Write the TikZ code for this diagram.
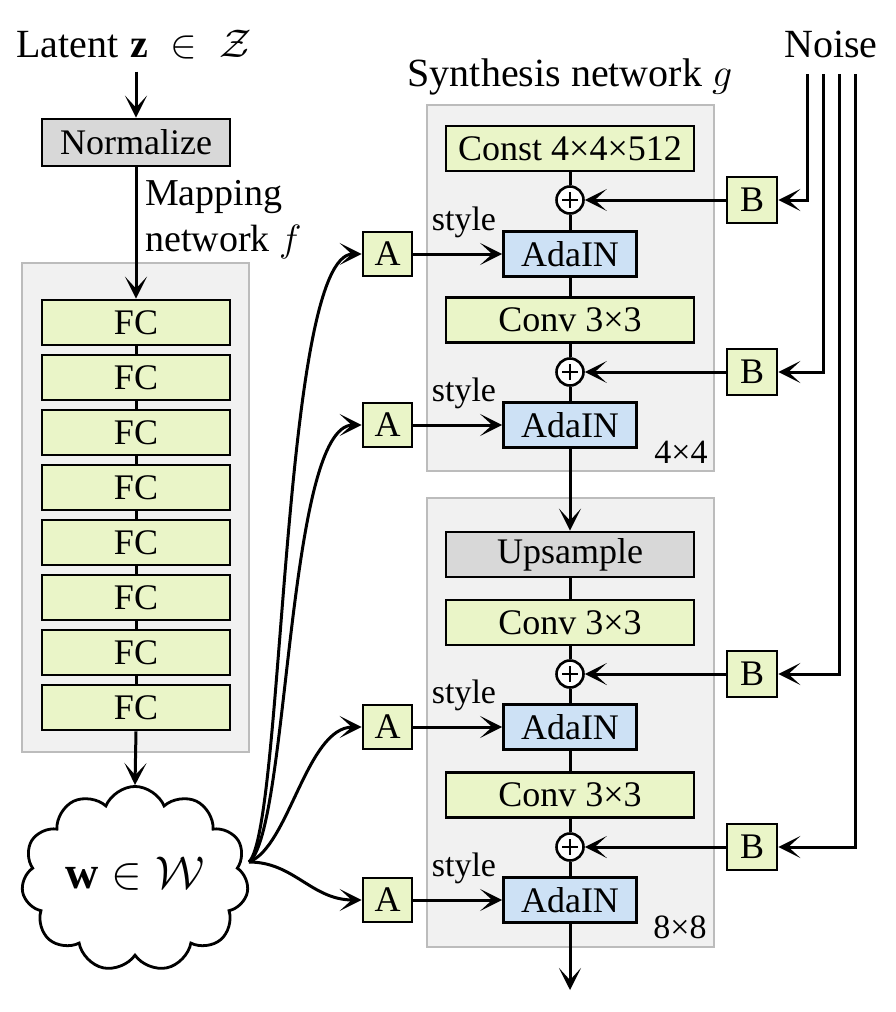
\documentclass[tikz,border=0pt]{standalone}
\usepackage{fix-cm}
\usepackage{fontspec}
\setmainfont{Liberation Serif}
\usetikzlibrary{arrows.meta,shapes.symbols}
\definecolor{gfill}{RGB}{234,245,200}
\definecolor{bfill}{RGB}{205,225,245}
\definecolor{nfill}{RGB}{216,216,216}
\definecolor{pfill}{RGB}{241,241,241}
\definecolor{pdraw}{RGB}{188,188,188}
\newcommand\fsTitle{\fontsize{40}{50}\selectfont}
\newcommand\fsBox{\fontsize{36}{42}\selectfont}
\newcommand\fsSmall{\fontsize{34}{40}\selectfont}
\begin{document}
\begin{tikzpicture}[x=1pt,y=-1pt,
  blk/.style={draw, line width=2.8pt, inner sep=0pt, minimum height=45pt, font=\fsBox},
  gbox/.style={blk, fill=gfill},
  bbox/.style={blk, fill=bfill, minimum width=133pt},
  nbox/.style={blk, fill=nfill},
  wide/.style={minimum width=248pt},
  fcbox/.style={gbox, minimum width=188pt},
  abox/.style={gbox, minimum width=49pt, minimum height=44pt},
  panelbox/.style={draw=pdraw, fill=pfill, line width=2.2pt, inner sep=0pt},
  plusnode/.style={circle, draw, fill=white, line width=2.6pt, minimum size=27pt, inner sep=0pt,
     path picture={\draw[line width=2pt] (path picture bounding box.center) ++(-8pt,0pt) -- ++(16pt,0pt)
        (path picture bounding box.center) ++(0pt,-8pt) -- ++(0pt,16pt);}},
  arr/.style={line width=3pt, -{Stealth[length=22pt,width=22pt,inset=12pt]}},
  conn/.style={line width=3pt},
  lbl/.style={inner sep=0pt, font=\fsTitle},
  stylelbl/.style={above=12pt, pos=0.57, font=\fsSmall, inner sep=3pt}
]
\useasboundingbox (0,0) rectangle (896,1012);

% panels
\node[panelbox, minimum width=227pt, minimum height=489pt] (mappanel) at (135.5,507.5) {};
\node[panelbox, minimum width=287pt, minimum height=366pt] (synA) at (570.5,288) {};
\node[panelbox, minimum width=287pt, minimum height=449pt] (synB) at (570.5,722.5) {};

% titles
\node[lbl] (lat) at (134,45) {Latent\hspace{12pt}$\mathbf{z}\;\in\;\mathcal{Z}$};
\node[lbl] (noise) at (831,44) {Noise};
\node[lbl] (syn) at (570,77) {Synthesis network $g$};
\node[lbl, anchor=north west, align=left, font=\fontsize{38}{46}\selectfont] (maplbl) at (145,180) {Mapping\\network $f$};

% mapping network
\node[nbox, minimum width=188pt, minimum height=47pt] (norm) at (136,142.5) {Normalize};
\foreach \i in {1,...,8}{
  \node[fcbox] (fc\i) at (136,{322.5+55*(\i-1)}) {FC};
}
\node[cloud, draw, line width=2.8pt, cloud puffs=11, cloud puff arc=135, aspect=1.27,
      minimum width=227pt, minimum height=178pt, inner sep=0pt, font=\fontsize{46}{50}\selectfont]
      (w) at (135,879) {\raisebox{12pt}{$\mathbf{w}\in\mathcal{W}$}};
\coordinate (wo) at (249,862);

\draw[arr, shorten <=12pt] (norm.north |- lat.south) -- (norm.north);
\draw[arr] (norm.south) -- (fc1.north);
\foreach \i [evaluate=\i as \j using int(\i+1)] in {1,...,7}{
  \draw[conn] (fc\i.south) -- (fc\j.north);
}
\draw[arr] (fc8.south) -- (w.north);

% synthesis network
\node[gbox, wide] (const) at (570,148.5) {Const 4×4×512};
\node[plusnode] (p1) at (570,200) {};
\node[bbox] (ada1) at (570,254) {AdaIN};
\node[gbox, wide] (conv1) at (570,320) {Conv 3×3};
\node[plusnode] (p2) at (570,372) {};
\node[bbox] (ada2) at (570,425) {AdaIN};
\node[lbl, font=\fsSmall] (res1) at (681,452) {4×4};

\node[nbox, wide] (up) at (570,554.5) {Upsample};
\node[gbox, wide] (conv2) at (570,622.5) {Conv 3×3};
\node[plusnode] (p3) at (570,674) {};
\node[bbox] (ada3) at (570,727) {AdaIN};
\node[gbox, wide] (conv3) at (570,795) {Conv 3×3};
\node[plusnode] (p4) at (570,847) {};
\node[bbox] (ada4) at (570,900) {AdaIN};
\node[lbl, font=\fsSmall] (res2) at (680,927) {8×8};
\coordinate (out) at (570,990);

\draw[conn] (const) -- (p1) -- (ada1) -- (conv1) -- (p2) -- (ada2);
\draw[arr] (ada2) -- (up);
\draw[conn] (up) -- (conv2) -- (p3) -- (ada3) -- (conv3) -- (p4) -- (ada4);
\draw[arr] (ada4) -- (out);

% A boxes
\node[abox] (A1) at (387.5,254) {A};
\node[abox] (A2) at (387.5,425) {A};
\node[abox] (A3) at (387.5,727) {A};
\node[abox] (A4) at (387.5,900) {A};
\draw[arr] (A1) -- node[stylelbl] {style} (ada1);
\draw[arr] (A2) -- node[stylelbl] {style} (ada2);
\draw[arr] (A3) -- node[stylelbl] {style} (ada3);
\draw[arr] (A4) -- node[stylelbl] {style} (ada4);

% B boxes and noise
\node[abox, minimum width=50pt, minimum height=46pt] (B1) at (752,200) {B};
\node[abox, minimum width=50pt, minimum height=46pt] (B2) at (752,372) {B};
\node[abox, minimum width=50pt, minimum height=46pt] (B3) at (752,674) {B};
\node[abox, minimum width=50pt, minimum height=46pt] (B4) at (752,847) {B};
\coordinate (n1) at (807,74);
\coordinate (n2) at (823,74);
\coordinate (n3) at (839,74);
\coordinate (n4) at (855,74);
\draw[arr] (n1) |- (B1.east);
\draw[arr] (n2) |- (B2.east);
\draw[arr] (n3) |- (B3.east);
\draw[arr] (n4) |- (B4.east);
\draw[arr] (B1) -- (p1);
\draw[arr] (B2) -- (p2);
\draw[arr] (B3) -- (p3);
\draw[arr] (B4) -- (p4);

% w to A
\draw[arr] (wo) .. controls +(35,-35) and +(-80,0) .. (A1.west);
\draw[arr] (wo) .. controls +(40,-30) and +(-75,0) .. (A2.west);
\draw[arr] (wo) .. controls +(40,-15) and +(-55,0) .. (A3.west);
\draw[arr] (wo) .. controls +(45,0) and +(-50,0) .. (A4.west);
\end{tikzpicture}
\end{document}
